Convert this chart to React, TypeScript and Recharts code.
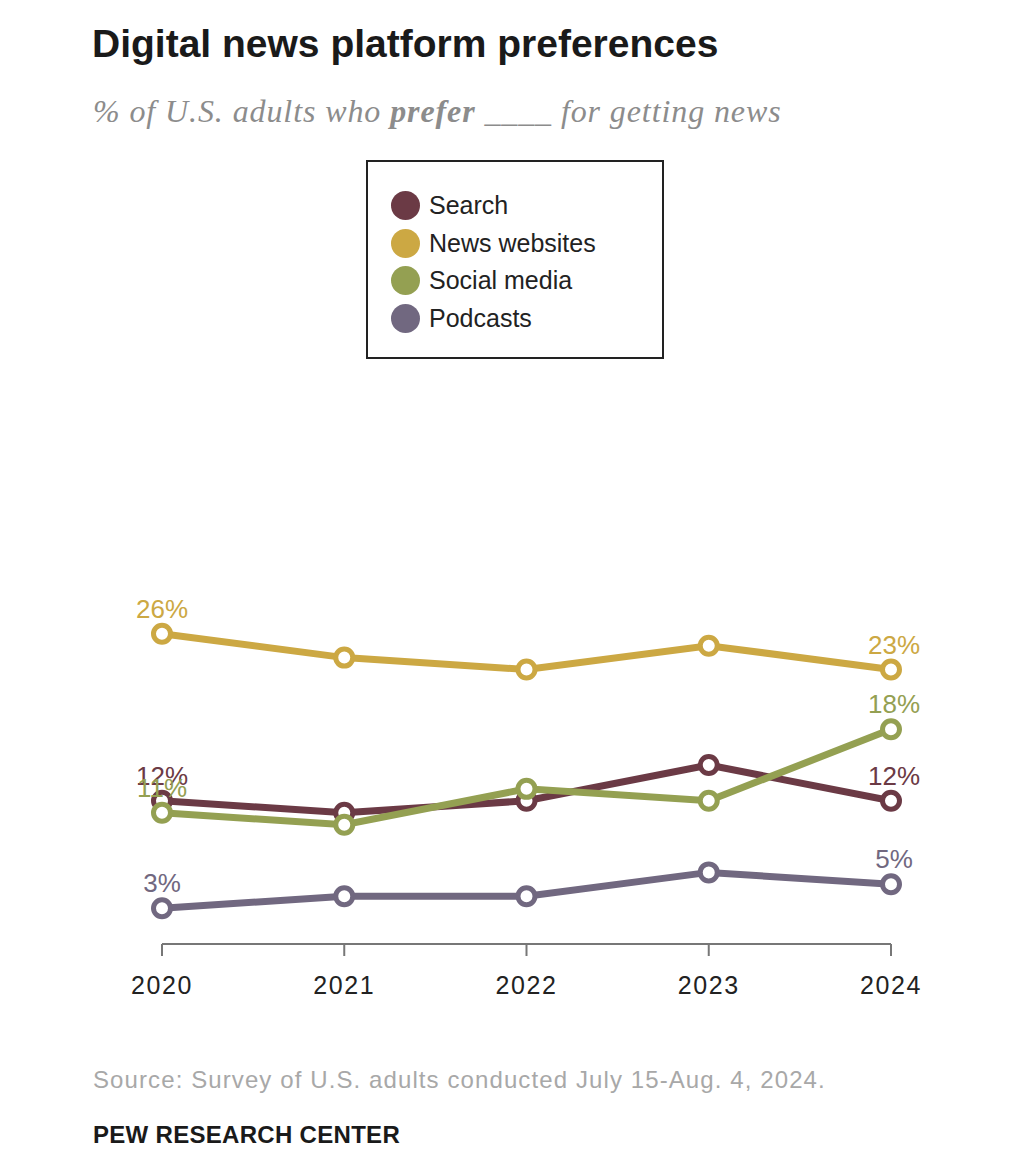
import { LineChart, Line, XAxis, YAxis, Legend, LabelList } from "recharts"

const years = ["2020", "2021", "2022", "2023", "2024"]
const search = [12, 11, 12, 15, 12]
const newsWebsites = [26, 24, 23, 25, 23]
const socialMedia = [11, 10, 13, 12, 18]
const podcasts = [3, 4, 4, 6, 5]

const seriesNames = ["Search", "News websites", "Social media", "Podcasts"]
const seriesColors = ["#6b3a45", "#cca843", "#94a052", "#716880"]

const data = years.map((year, i) => ({
    year,
    search: search[i],
    news: newsWebsites[i],
    social: socialMedia[i],
    podcasts: podcasts[i],
}))

const sansFont = "'Liberation Sans', Arial, sans-serif"

const endLabel = (color: string) => (props: any) => {
    const { x, y, value, index } = props
    if (index !== 0 && index !== years.length - 1) return null
    return (
        <text
            x={index === 0 ? x : x + 3}
            y={y - 16}
            textAnchor="middle"
            fill={color}
            fontSize={26}
            fontFamily={sansFont}
        >
            {value}%
        </text>
    )
}

function LegendBox() {
    return (
        <div
            style={{
                width: 298,
                height: 199,
                border: "2px solid #222",
                background: "#fff",
                boxSizing: "border-box",
                paddingTop: 25,
                paddingLeft: 23,
            }}
        >
            {seriesNames.map((name, i) => (
                <div
                    key={name}
                    style={{ display: "flex", alignItems: "center", height: 37.5, fontFamily: sansFont, fontSize: 25, color: "#222" }}
                >
                    <span
                        style={{
                            display: "inline-block",
                            width: 29,
                            height: 29,
                            borderRadius: "50%",
                            background: seriesColors[i],
                            marginRight: 9,
                        }}
                    />
                    {name}
                </div>
            ))}
        </div>
    )
}

export default function App() {
    const keys = ["search", "news", "social", "podcasts"]
    // draw order: news, search, social, podcasts
    const order = [1, 0, 2, 3]

    return (
        <div style={{ position: "absolute", left: 0, top: 0, width: 1024, height: 1164, background: "#fff" }}>
            <div
                style={{
                    position: "absolute",
                    left: 92,
                    top: 22,
                    fontFamily: sansFont,
                    fontWeight: "bold",
                    fontSize: 39,
                    lineHeight: "44px",
                    color: "#1a1a1a",
                    whiteSpace: "nowrap",
                }}
            >
                Digital news platform preferences
            </div>
            <div
                style={{
                    position: "absolute",
                    left: 93,
                    top: 93,
                    fontFamily: "'Liberation Serif', Georgia, serif",
                    fontStyle: "italic",
                    fontSize: 32,
                    letterSpacing: 0.9,
                    lineHeight: "36px",
                    color: "#8c8c8c",
                    whiteSpace: "nowrap",
                }}
            >
                % of U.S. adults who <b>prefer</b> ____ for getting news
            </div>

            <div style={{ position: "absolute", left: 0, top: 0 }}>
                <LineChart width={1024} height={1010} data={data} margin={{ top: 586, right: 133, bottom: 30, left: 162 }}>
                    <XAxis
                        dataKey="year"
                        height={36}
                        axisLine={{ stroke: "#777", strokeWidth: 2 }}
                        tickLine={{ stroke: "#777", strokeWidth: 2 }}
                        tickSize={12}
                        tickMargin={20}
                        tick={{ fill: "#222", fontSize: 25, fontFamily: sansFont, letterSpacing: 1.6 }}
                        interval={0}
                    />
                    <YAxis hide domain={[0, 30]} />
                    <Legend
                        layout="vertical"
                        align="center"
                        verticalAlign="middle"
                        wrapperStyle={{ position: "absolute", left: 366, top: 160, width: 298, height: 199 }}
                        content={() => <LegendBox />}
                    />
                    {order.map((i) => (
                        <Line
                            key={keys[i]}
                            dataKey={keys[i]}
                            name={seriesNames[i]}
                            stroke={seriesColors[i]}
                            strokeWidth={7}
                            dot={{ r: 8.5, fill: "#fff", stroke: seriesColors[i], strokeWidth: 5 }}
                            activeDot={false}
                            isAnimationActive={false}
                        >
                            <LabelList dataKey={keys[i]} content={endLabel(seriesColors[i])} />
                        </Line>
                    ))}
                </LineChart>
            </div>

            <div
                style={{
                    position: "absolute",
                    left: 93,
                    top: 1066,
                    fontFamily: sansFont,
                    fontSize: 24,
                    letterSpacing: 1.1,
                    lineHeight: "28px",
                    color: "#a8a8a8",
                    whiteSpace: "nowrap",
                }}
            >
                Source: Survey of U.S. adults conducted July 15-Aug. 4, 2024.
            </div>
            <div
                style={{
                    position: "absolute",
                    left: 93,
                    top: 1121,
                    fontFamily: sansFont,
                    fontWeight: "bold",
                    fontSize: 24,
                    letterSpacing: 0.3,
                    lineHeight: "28px",
                    color: "#1a1a1a",
                    whiteSpace: "nowrap",
                }}
            >
                PEW RESEARCH CENTER
            </div>
        </div>
    )
}
